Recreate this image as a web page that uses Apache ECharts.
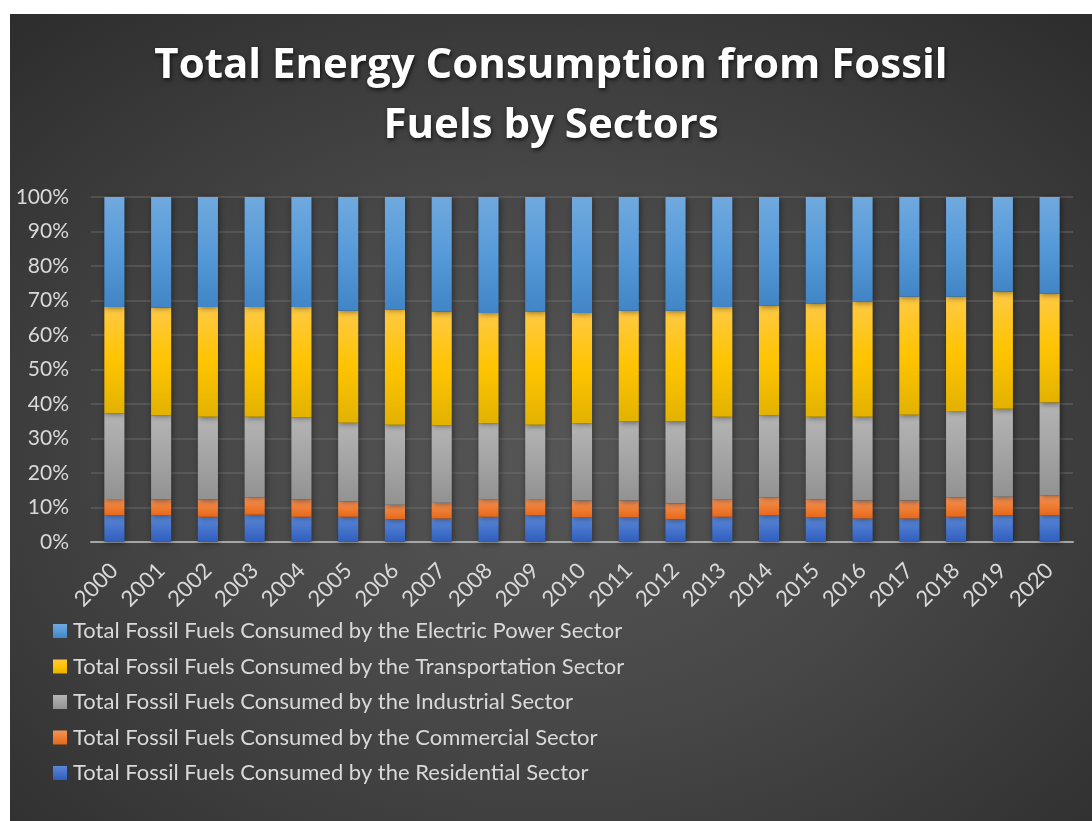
<!DOCTYPE html>
<html>
<head>
<meta charset="utf-8">
<script src="https://cdn.jsdelivr.net/npm/echarts@6/dist/echarts.min.js"></script>
<style>
  html, body { margin: 0; padding: 0; background: #ffffff; }
  #panel {
    position: absolute; left: 10px; top: 14px; width: 1082px; height: 807px;
    background: radial-gradient(ellipse 75% 75% at 50% 55%, #565656 0%, #474747 45%, #2c2c2c 100%);
  }
  #chart { width: 1082px; height: 807px; }
</style>
</head>
<body>
<div id="panel"><div id="chart"></div></div>
<script>
// Years on the category axis
const years = ['2000','2001','2002','2003','2004','2005','2006','2007','2008','2009','2010',
               '2011','2012','2013','2014','2015','2016','2017','2018','2019','2020'];

// Share of fossil fuel consumption by sector (percent of yearly total)
const residential    = [7.7, 7.7, 7.3, 7.9, 7.3, 7.3, 6.6, 6.8, 7.3, 7.7, 7.1, 7.1, 6.6, 7.3, 7.7, 7.1, 6.8, 6.8, 7.3, 7.7, 7.7];
const commercial     = [4.8, 4.6, 5.0, 5.0, 5.0, 4.5, 4.2, 4.6, 5.1, 4.8, 4.9, 4.9, 4.6, 5.1, 5.2, 5.3, 5.2, 5.2, 5.6, 5.4, 5.8];
const industrial     = [24.8, 24.4, 24.0, 23.4, 23.8, 22.8, 23.2, 22.4, 22.0, 21.5, 22.4, 22.9, 23.7, 23.9, 23.8, 23.9, 24.3, 24.9, 25.1, 25.5, 26.9];
const transportation = [30.8, 31.3, 31.8, 31.8, 32.0, 32.4, 33.4, 33.0, 32.0, 32.8, 32.0, 32.1, 32.1, 31.8, 31.8, 32.8, 33.4, 34.2, 33.1, 34.0, 31.6];
const electricPower  = [31.9, 32.0, 31.9, 31.9, 31.9, 33.0, 32.6, 33.2, 33.6, 33.2, 33.6, 33.0, 33.0, 31.9, 31.5, 30.9, 30.3, 28.9, 28.9, 27.4, 28.0];

const yTicks = [0, 10, 20, 30, 40, 50, 60, 70, 80, 90, 100];

const names = {
  res:  'Total Fossil Fuels Consumed by the Residential Sector',
  com:  'Total Fossil Fuels Consumed by the Commercial Sector',
  ind:  'Total Fossil Fuels Consumed by the Industrial Sector',
  tra:  'Total Fossil Fuels Consumed by the Transportation Sector',
  ele:  'Total Fossil Fuels Consumed by the Electric Power Sector'
};

function grad(top, mid, bottom) {
  return new echarts.graphic.LinearGradient(0, 0, 0, 1, [
    { offset: 0, color: top },
    { offset: 0.5, color: mid },
    { offset: 1, color: bottom }
  ]);
}

function barSeries(name, data, fill, legendColor) {
  return {
    name: name,
    type: 'bar',
    stack: 'total',
    barWidth: '43%',
    data: data,
    color: legendColor,
    itemStyle: {
      color: fill,
      shadowColor: 'rgba(0,0,0,0.45)',
      shadowBlur: 6,
      shadowOffsetX: 1,
      shadowOffsetY: 1
    },
    emphasis: { disabled: true }
  };
}

const font = 'Lato, "Open Sans", sans-serif';
const chart = echarts.init(document.getElementById('chart'), null, { renderer: 'canvas' });

chart.setOption({
  backgroundColor: 'transparent',
  animation: false,
  title: {
    text: 'Total Energy Consumption from Fossil\nFuels by Sectors',
    left: 'center',
    top: 17,
    padding: [5, 0, 5, 10],
    textStyle: {
      color: '#ffffff',
      fontFamily: '"Open Sans", Lato, sans-serif',
      fontWeight: 'bold',
      fontSize: 42,
      lineHeight: 60,
      textShadowColor: 'rgba(0,0,0,0.7)',
      textShadowBlur: 4,
      textShadowOffsetX: 1,
      textShadowOffsetY: 2
    }
  },
  legend: {
    orient: 'vertical',
    left: 38,
    top: 601,
    icon: 'rect',
    itemWidth: 14,
    itemHeight: 14,
    itemGap: 13.5,
    itemStyle: { borderWidth: 0 },
    textStyle: { color: '#d9d9d9', fontFamily: font, fontSize: 22, padding: [0, 0, 0, 1] },
    data: [names.ele, names.tra, names.ind, names.com, names.res]
  },
  grid: { left: 81, right: 19, top: 183, bottom: 279, containLabel: false },
  xAxis: {
    type: 'category',
    data: years,
    axisLine: { lineStyle: { color: '#a6a6a6', width: 2 } },
    axisTick: { show: false },
    axisLabel: {
      color: '#d9d9d9', fontFamily: font, fontSize: 22, rotate: 45, margin: 25, interval: 0
    }
  },
  yAxis: {
    type: 'value',
    min: yTicks[0],
    max: yTicks[yTicks.length - 1],
    interval: yTicks[1] - yTicks[0],
    axisLine: { show: false },
    axisTick: { show: false },
    splitLine: { lineStyle: { color: 'rgba(115,115,115,0.55)', width: 1.5 } },
    axisLabel: {
      color: '#d9d9d9', fontFamily: font, fontSize: 21, margin: 22,
      formatter: v => v + '%'
    }
  },
  series: [
    barSeries(names.res, residential,    grad('#5b88d6', '#4573cb', '#2f5ebd'), '#4472c4'),
    barSeries(names.com, commercial,     grad('#f4945c', '#ef7d33', '#e5681a'), '#ed7d31'),
    barSeries(names.ind, industrial,     grad('#b4b4b4', '#a4a4a4', '#929292'), '#a5a5a5'),
    barSeries(names.tra, transportation, grad('#ffc945', '#ffc400', '#e2b200'), '#ffc000'),
    barSeries(names.ele, electricPower,  grad('#70a9de', '#579ad9', '#4285c6'), '#5b9bd5')
  ]
});
</script>
</body>
</html>
